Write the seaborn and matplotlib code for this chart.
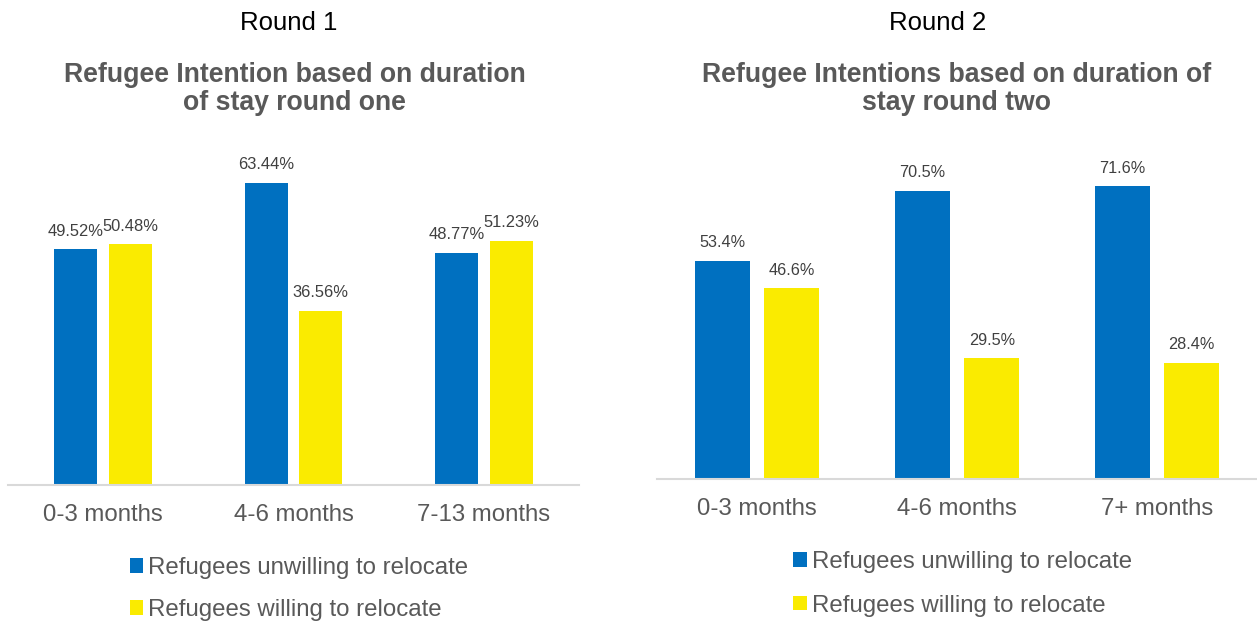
import matplotlib
matplotlib.use("Agg")
import matplotlib.pyplot as plt
import seaborn as sns
import pandas as pd
from matplotlib.patches import Patch

# ---- data ----
round1_categories = ["0-3 months", "4-6 months", "7-13 months"]
round1_unwilling = [49.52, 63.44, 48.77]
round1_willing = [50.48, 36.56, 51.23]

round2_categories = ["0-3 months", "4-6 months", "7+ months"]
round2_unwilling = [53.4, 70.5, 71.6]
round2_willing = [46.6, 29.5, 28.4]

series_names = ["Refugees unwilling to relocate", "Refugees willing to relocate"]
round_labels = ["Round 1", "Round 2"]
titles = ["Refugee Intention based on duration\nof stay round one",
          "Refugee Intentions based on duration of\nstay round two"]

BLUE = "#0070C0"
YELLOW = "#FAEB00"
GRAY = "#595959"
LABEL = "#404040"

sns.set_theme(style="white")
plt.rcParams["font.family"] = ["Liberation Sans", "DejaVu Sans"]

W, H = 1257, 624
fig = plt.figure(figsize=(W / 100, H / 100), dpi=100)


def make_df(cats, unw, wil):
    rows = []
    for c, v in zip(cats, unw):
        rows.append({"duration": c, "group": series_names[0], "value": v})
    for c, v in zip(cats, wil):
        rows.append({"duration": c, "group": series_names[1], "value": v})
    return pd.DataFrame(rows)


def px_axes(x0, x1, ytop, ybot):
    return fig.add_axes([x0 / W, 1 - ybot / H, (x1 - x0) / W, (ybot - ytop) / H])


panels = [
    dict(df=make_df(round1_categories, round1_unwilling, round1_willing),
         x0=8, x1=579, ytop=150, ybot=485, ppu=4.765, width=0.574, gap=0.21,
         fmt="{:.2f}%", lblsize=11.9, tickpad=13.8,
         round_x=289, title_x=294.5, leg_x=130, leg_y=557, labelspacing=0.84),
    dict(df=make_df(round2_categories, round2_unwilling, round2_willing),
         x0=657, x1=1257, ytop=150, ybot=479, ppu=4.09, width=0.695, gap=0.21,
         fmt="{:.1f}%", lblsize=11.7, tickpad=13.8,
         round_x=938, title_x=957, leg_x=793.5, leg_y=551, labelspacing=0.9),
]

for i, p in enumerate(panels):
    ax = px_axes(p["x0"], p["x1"], p["ytop"], p["ybot"])
    sns.barplot(data=p["df"], x="duration", y="value", hue="group",
                palette=[BLUE, YELLOW], width=p["width"], gap=p["gap"],
                saturation=1, linewidth=0, errorbar=None, legend=False, ax=ax)
    ax.set_ylim(0, (p["ybot"] - p["ytop"]) / p["ppu"])
    ax.set_xlim(-0.5, 2.5)
    for cont in ax.containers:
        vals = [b.get_height() for b in cont]
        ax.bar_label(cont, labels=[p["fmt"].format(v) for v in vals],
                     padding=7.5, fontsize=p["lblsize"], color=LABEL)
    ax.set_xlabel("")
    ax.set_ylabel("")
    ax.set_yticks([])
    for s in ["top", "right", "left"]:
        ax.spines[s].set_visible(False)
    ax.spines["bottom"].set_color("#D9D9D9")
    ax.spines["bottom"].set_linewidth(1.5)
    ax.tick_params(axis="x", length=0, labelsize=17.3, labelcolor=GRAY,
                   pad=p["tickpad"])
    ax.set_facecolor("none")

    fig.text(p["round_x"] / W, 1 - 23 / H, round_labels[i], ha="center",
             va="center", fontsize=18.5, color="black")
    fig.text(p["title_x"] / W, 1 - 89 / H, titles[i], ha="center", va="center",
             fontsize=19.2, fontweight="bold", color=GRAY, linespacing=1.15,
             multialignment="center")

    handles = [Patch(facecolor=BLUE, edgecolor="none"),
               Patch(facecolor=YELLOW, edgecolor="none")]
    fig.legend(handles, series_names, loc="upper left",
               bbox_to_anchor=(p["leg_x"] / W, 1 - p["leg_y"] / H),
               frameon=False, fontsize=17.3, labelcolor=GRAY,
               handlelength=0.55, handleheight=0.55, handletextpad=0.2,
               borderpad=0, borderaxespad=0, labelspacing=p["labelspacing"])

fig.savefig("out.png", dpi=100, facecolor="white")
